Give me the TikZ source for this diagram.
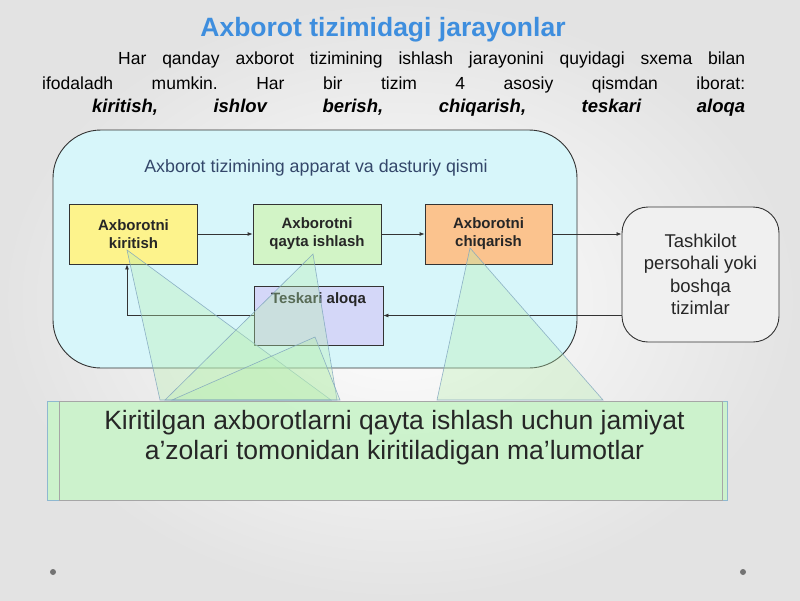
\documentclass[tikz,border=0pt]{standalone}
\usepackage{fontspec}
\setmainfont{Liberation Sans}
\usetikzlibrary{arrows.meta}
\definecolor{titleblue}{HTML}{3E8EDE}
\definecolor{sysfill}{HTML}{D7F6FA}
\definecolor{syslabel}{HTML}{34476A}
\definecolor{ykfill}{HTML}{FDF38C}
\definecolor{gqfill}{HTML}{D2F4C6}
\definecolor{orfill}{HTML}{FBC38E}
\definecolor{lvfill}{HTML}{D4D7F8}
\definecolor{rtfill}{HTML}{F0F0F0}
\definecolor{edge}{HTML}{333333}
\definecolor{notefill}{HTML}{CBF3CB}
\definecolor{noteedge}{HTML}{8FB8D0}
\definecolor{calloutedge}{HTML}{7FA4BE}
\definecolor{calloutfill}{HTML}{B8EFB0}
\tikzset{
  stepbox/.style={draw=edge, line width=0.8pt, minimum width=128pt, minimum height=60pt,
    align=center, font=\fontsize{15}{18}\selectfont\bfseries, text=black!85},
  arr/.style={draw=edge, line width=0.8pt, -{Latex[length=5pt,width=4pt]}},
  callout/.style={fill=calloutfill, fill opacity=0.35, draw=calloutedge, draw opacity=0.85, line width=0.6pt}
}
\begin{document}
\begin{tikzpicture}[x=1pt,y=-1pt]
\useasboundingbox (0,0) rectangle (800,600);
\shade[inner color=white, outer color=black!11] (0,0) rectangle (800,600);

% title and paragraph
\node[font=\fontsize{26.5}{30}\selectfont\bfseries, text=titleblue] (title) at (383,30) {Axborot tizimidagi jarayonlar};
\node[anchor=west, inner sep=0pt, font=\fontsize{17.5}{20}\selectfont] (p1) at (118,60)
  {\hbox to 627pt{Har\hfill qanday\hfill axborot\hfill tizimining\hfill ishlash\hfill jarayonini\hfill quyidagi\hfill sxema\hfill bilan}};
\node[anchor=west, inner sep=0pt, font=\fontsize{17.5}{20}\selectfont] (p2) at (42,85)
  {\hbox to 703pt{ifodaladh\hfill mumkin.\hfill Har\hfill bir\hfill tizim\hfill 4\hfill asosiy\hfill qismdan\hfill iborat:}};
\node[anchor=west, inner sep=0pt, font=\fontsize{18.5}{20}\selectfont\bfseries\itshape] (p3) at (92,108)
  {\hbox to 653pt{kiritish,\hfill ishlov\hfill berish,\hfill chiqarish,\hfill teskari\hfill aloqa}};

% system container
\node[draw=edge, line width=0.9pt, fill=sysfill, rounded corners=48pt,
  minimum width=524pt, minimum height=238pt] (sys) at (315,249) {};
\node[font=\fontsize{17.8}{20}\selectfont, text=syslabel] (syslbl) at (316,168) {Axborot tizimining apparat va dasturiy qismi};

% steps
\node[stepbox, fill=ykfill] (k) at (133.5,234) {Axborotni\\kiritish};
\node[stepbox, fill=gqfill] (q) at (317,234) {Axborotni\\qayta ishlash};
\node[stepbox, fill=orfill, minimum width=127pt] (c) at (488.5,234) {Axborotni\\chiqarish};
\node[stepbox, fill=lvfill, minimum width=129pt, minimum height=59pt] (fb) at (318.5,315.5) {};
\node[font=\fontsize{15}{18}\selectfont\bfseries, text=black!85] (fbt) at (318.5,300) {Teskari aloqa};

% external
\node[draw=edge, line width=0.9pt, fill=rtfill, rounded corners=26pt,
  minimum width=157pt, minimum height=135pt, align=center,
  font=\fontsize{18.5}{22.5}\selectfont, text=black!85] (t) at (700.5,274.5)
  {Tashkilot\\persohali yoki\\boshqa\\tizimlar};

% connectors
\draw[arr] (k) -- (q);
\draw[arr] (q) -- (c);
\draw[arr] (c.east) -- (c.east -| t.west);
\draw[arr] (t.west |- fb.east) -- (fb.east);
\draw[arr] (fb.west) -| ([xshift=-6.5pt]k.south);

% callout pointers
\draw[callout] (127,250) -- (160,400) -- (331,400) -- cycle;
\draw[callout] (313,254) -- (165,400) -- (337,400) -- cycle;
\draw[callout] (315,337) -- (172,400) -- (340,400) -- cycle;
\draw[callout] (470,248) -- (437,400) -- (603,400) -- cycle;

% note box
\node[draw=noteedge, line width=0.9pt, fill=notefill, fill opacity=0.95,
  minimum width=680pt, minimum height=99pt] (note) at (387,450.5) {};
\draw[black!35, line width=0.6pt] (59,401) rectangle (722,500);
\node[align=center, font=\fontsize{26.5}{30}\selectfont, text=black!85] (notetext) at (394.5,438)
  {Kiritilgan axborotlarni qayta ishlash uchun jamiyat\\a’zolari tomonidan kiritiladigan ma’lumotlar};

% slide dots
\fill[black!55] (53,572) circle (3pt);
\fill[black!55] (743,572) circle (3pt);
\end{tikzpicture}
\end{document}
